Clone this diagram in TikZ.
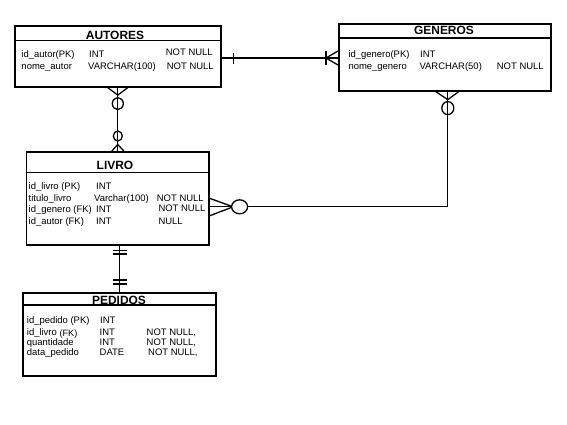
\documentclass[tikz,border=0pt]{standalone}
\usepackage{fontspec}
\setmainfont{Liberation Sans}
\usetikzlibrary{calc}
\begin{document}
\begin{tikzpicture}[x=1bp,y=-1bp,
 tbl/.style={draw,line width=1.6bp,rectangle,inner sep=0,anchor=north west},
 ttl/.style={font=\fontsize{12}{13}\selectfont\bfseries,anchor=base,inner sep=0},
 cell/.style={font=\fontsize{9.5}{11}\selectfont,anchor=base west,inner sep=0},
 conn/.style={line width=1.3bp},
 sep/.style={line width=1.4bp}]
\useasboundingbox[fill=white] (0,0) rectangle (567,424);

% tables
\node[tbl,minimum width=206bp,minimum height=61bp] (autores) at (14,25) {};
\draw[sep] ($(autores.north west)+(0,15.5)$) -- ($(autores.north east)+(0,15.5)$);
\node[tbl,minimum width=212bp,minimum height=67bp] (generos) at (338,23) {};
\draw[sep] ($(generos.north west)+(0,15)$) -- ($(generos.north east)+(0,15)$);
\node[tbl,minimum width=182.5bp,minimum height=93bp] (livro) at (25.5,151) {};
\draw[sep] ($(livro.north west)+(0,21.5)$) -- ($(livro.north east)+(0,21.5)$);
\node[tbl,minimum width=193bp,minimum height=83bp] (pedidos) at (22,292) {};
\draw[sep] ($(pedidos.north west)+(0,13)$) -- ($(pedidos.north east)+(0,13)$);

% titles
\node[ttl] (tA) at (115,39) {AUTORES};
\node[ttl] (tG) at (444,34.5) {GENEROS};
\node[ttl] (tL) at (115,169) {LIVRO};
\node[ttl] (tP) at (119,304) {PEDIDOS};

% AUTORES cells
\node[cell] (a11) at (21.3,57.5) {id\_autor(PK)};
\node[cell] (a12) at (89,57.5) {INT};
\node[cell] (a13) at (165.7,55) {NOT NULL};
\node[cell] (a21) at (21.3,69) {nome\_autor};
\node[cell] (a22) at (88,69) {VARCHAR(100)};
\node[cell] (a23) at (166.7,69) {NOT NULL};

% GENEROS cells
\node[cell] (g11) at (348.3,57.7) {id\_genero(PK)};
\node[cell] (g12) at (420,57.7) {INT};
\node[cell] (g21) at (348.3,69) {nome\_genero};
\node[cell] (g22) at (419.3,69) {VARCHAR(50)};
\node[cell] (g23) at (496.7,69) {NOT NULL};

% LIVRO cells
\node[cell] (l11) at (28.5,189.5) {id\_livro (PK)};
\node[cell] (l12) at (96,189.5) {INT};
\node[cell] (l21) at (28.5,201.5) {titulo\_livro};
\node[cell] (l22) at (94,201.5) {Varchar(100)};
\node[cell] (l23) at (156.7,201.5) {NOT NULL};
\node[cell] (l31) at (28.5,212.7) {id\_genero (FK)};
\node[cell] (l32) at (96,212.7) {INT};
\node[cell] (l33) at (158.3,211.8) {NOT NULL};
\node[cell] (l41) at (28.5,224.3) {id\_autor (FK)};
\node[cell] (l42) at (96,224.3) {INT};
\node[cell] (l43) at (158.3,224.3) {NULL};

% PEDIDOS cells
\node[cell] (p11) at (26.7,323.3) {id\_pedido (PK)};
\node[cell] (p12) at (100,323.3) {INT};
\node[cell] (p21) at (26.7,335) {id\_livro};
\node[cell,font=\fontsize{9.2}{11}\selectfont] (p2f) at (59.3,336) {(FK)};
\node[cell] (p22) at (99.5,335) {INT};
\node[cell] (p23) at (146.5,335) {NOT NULL,};
\node[cell] (p31) at (26.7,345) {quantidade};
\node[cell] (p32) at (99.5,345) {INT};
\node[cell] (p33) at (146.5,345) {NOT NULL,};
\node[cell] (p41) at (26.7,355.5) {data\_pedido};
\node[cell] (p42) at (99.5,355.5) {DATE};
\node[cell] (p43) at (148,355.5) {NOT NULL,};

% connector AUTORES - LIVRO
\coordinate (al2) at (autores.south |- livro.north);
\draw[conn] (autores.south) -- (al2);
\begin{scope}[shift={(autores.south)}]
  \draw[conn] (-10,0) -- (0,7.5) -- (10,0);
  \draw[conn] (0,16) ellipse [x radius=5.5, y radius=6];
\end{scope}
\begin{scope}[shift={(al2)}]
  \draw[conn] (-6,0) -- (0,-6.5) -- (6,0);
  \draw[conn] (0,-15) ellipse [x radius=4.5, y radius=5];
\end{scope}

% connector AUTORES - GENEROS
\coordinate (ag1) at (autores.east |- 0,58);
\coordinate (ag2) at (generos.west |- 0,58);
\draw[conn] (ag1) -- (ag2);
\draw[conn] ($(ag1)+(12,-5.5)$) -- ($(ag1)+(12,5.5)$);
\begin{scope}[shift={(ag2)}]
  \draw[conn] (0,-7) -- (-12,0) -- (0,7);
  \draw[conn] (-12,-7) -- (-12,7);
\end{scope}

% connector GENEROS - LIVRO
\coordinate (gl1) at ($(generos.south)+(3,0)$);
\coordinate (gl2) at ($(livro.east)+(0,8.5)$);
\draw[conn] (gl1) |- (gl2);
\begin{scope}[shift={(gl1)}]
  \draw[conn] (-12,0) -- (0,8) -- (11,0);
  \draw[conn] (0,16.5) ellipse [x radius=6, y radius=6.5];
\end{scope}
\begin{scope}[shift={(gl2)}]
  \draw[conn] (0,-8.5) -- (23.5,0) -- (0,9);
  \draw[conn,fill=white] (30,0) ellipse [x radius=8, y radius=7];
\end{scope}

% connector LIVRO - PEDIDOS
\coordinate (lp1) at ($(livro.south)+(2.25,0)$);
\coordinate (lp2) at (lp1 |- pedidos.north);
\draw[conn] (lp1) -- (lp2);
\begin{scope}[shift={(lp1)}]
  \draw[conn] (-7,5) -- (7,5);
  \draw[conn] (-7,8.5) -- (7,8.5);
\end{scope}
\begin{scope}[shift={(lp2)}]
  \draw[conn] (-7,-12) -- (7,-12);
  \draw[conn] (-7,-8) -- (7,-8);
\end{scope}
\end{tikzpicture}
\end{document}
